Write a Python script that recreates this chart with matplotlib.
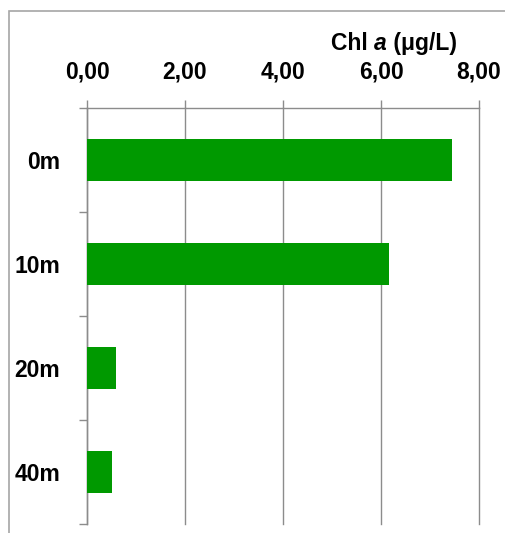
import matplotlib
matplotlib.use("Agg")
import matplotlib.pyplot as plt
from matplotlib.patches import Rectangle
from matplotlib.offsetbox import TextArea, HPacker, AnchoredOffsetbox
import numpy as np

depths = ["0m", "10m", "20m", "40m"]
chl_a = [7.45, 6.16, 0.60, 0.50]
x_ticks = [0, 2, 4, 6, 8]
x_tick_labels = ["0,00", "2,00", "4,00", "6,00", "8,00"]

W, H = 505, 533
fig = plt.figure(figsize=(W / 100, H / 100), dpi=100)
fig.patch.set_facecolor("white")

line_col = "#8c8c8c"
bar_col = "#009900"
font = "Liberation Sans"
fs = 16.5

# outer chart frame
fig.add_artist(Rectangle((9 / W, -0.1), 1.2, 1 - 11 / H + 0.1,
                         transform=fig.transFigure, fill=False,
                         edgecolor="#a6a6a6", linewidth=1.2))

left, right, top, bottom = 87 / W, 479 / W, 1 - 108 / H, 1 - 524 / H
ax = fig.add_axes([left, bottom, right - left, top - bottom])

y = np.arange(len(depths))
ax.barh(y, chl_a, height=0.41, color=bar_col, zorder=3)

ax.set_xlim(0, 8)
ax.set_ylim(len(depths) - 0.5, -0.5)

tick_len = 8 * 0.72  # 8 px in points

ax.xaxis.tick_top()
ax.set_xticks(x_ticks)
ax.set_xticklabels(x_tick_labels, fontsize=fs, fontweight="bold", family=font)
ax.tick_params(axis="x", which="major", direction="out", length=tick_len,
               width=1, color=line_col, pad=12)

ax.set_yticks(y)
ax.set_yticklabels(depths, fontsize=fs, fontweight="bold", family=font)
ax.set_yticks(np.arange(-0.5, len(depths), 1), minor=True)
ax.tick_params(axis="y", which="major", length=0, pad=19.5)
ax.tick_params(axis="y", which="minor", direction="out", length=tick_len,
               width=1, color=line_col)

ax.grid(axis="x", color=line_col, linewidth=1, zorder=0)
ax.set_axisbelow(True)
for gl in ax.get_xgridlines():
    gl.set_clip_on(False)

for s in ["right", "bottom"]:
    ax.spines[s].set_visible(False)
for s in ["top", "left"]:
    ax.spines[s].set_color(line_col)
    ax.spines[s].set_linewidth(1)

# axis title with italic "a"
props = dict(fontsize=fs, fontweight="bold", family=font, color="black")
parts = [TextArea("Chl ", textprops=props),
         TextArea("a", textprops=dict(props, style="italic")),
         TextArea(" (μg/L)", textprops=props)]
box = HPacker(children=parts, align="baseline", pad=0, sep=0)
anchored = AnchoredOffsetbox(loc="lower right", child=box, pad=0, frameon=False,
                             bbox_to_anchor=(457 / W, 1 - 55 / H),
                             bbox_transform=fig.transFigure, borderpad=0)
fig.add_artist(anchored)

fig.savefig("out.png", dpi=100)
